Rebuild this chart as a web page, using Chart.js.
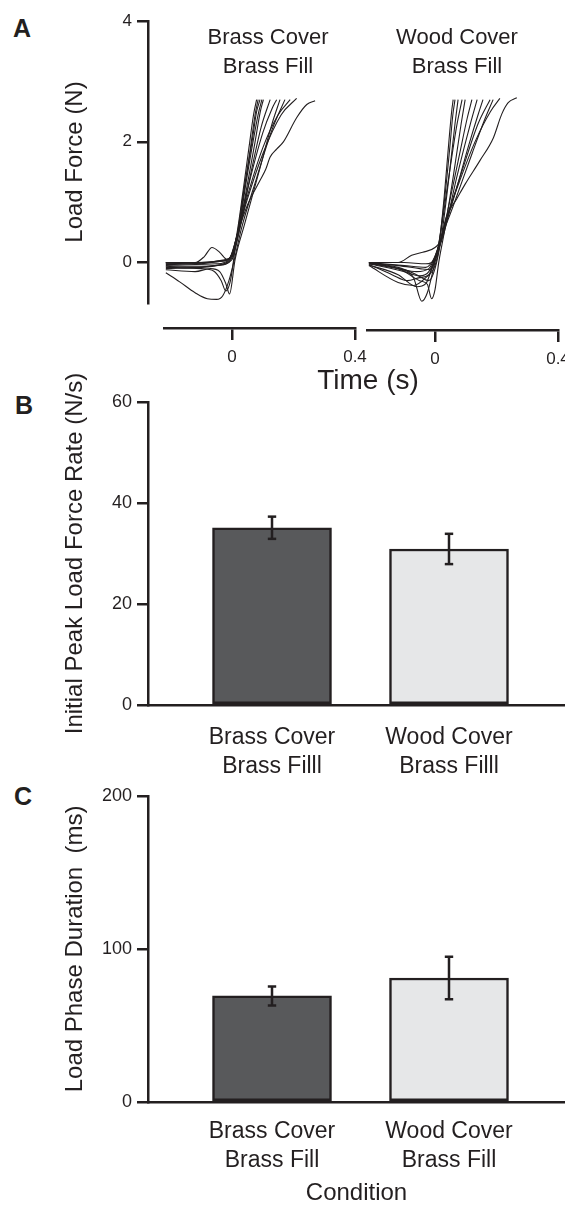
<!DOCTYPE html>
<html lang="en">
<head>
<meta charset="UTF-8">
<title>Load force traces and load phase summaries</title>
<script src="https://cdn.jsdelivr.net/npm/chart.js"></script>
<style>
  html, body { margin: 0; padding: 0; background: #fff; overflow: hidden; }
  body { width: 565px; height: 1205px; position: relative; font-family: 'Liberation Sans', Arial, sans-serif; color: #231f20; }
  canvas { position: absolute; }
  .panel { position: absolute; font-weight: bold; font-size: 25px; line-height: 25px; }
  #timeTitle { position: absolute; left: 268px; width: 200px; top: 366px; text-align: center; font-size: 28px; line-height: 28px; }
</style>
</head>
<body>
<div class="panel" style="left:13px;top:16px">A</div>
<div class="panel" style="left:15px;top:393px">B</div>
<div class="panel" style="left:14px;top:784px">C</div>

<canvas id="aAxis" width="150" height="320" style="left:0;top:0"></canvas>
<canvas id="aBrass" width="225" height="320" style="left:150px;top:0"></canvas>
<canvas id="aWood" width="215" height="320" style="left:350px;top:0"></canvas>
<canvas id="aTimeBrass" width="225" height="50" style="left:150px;top:318px"></canvas>
<canvas id="aTimeWood" width="215" height="50" style="left:350px;top:320px"></canvas>
<div id="timeTitle">Time (s)</div>
<canvas id="rateChart" width="565" height="440" style="left:0;top:340px"></canvas>
<canvas id="durChart" width="565" height="425" style="left:0;top:780px"></canvas>

<script>
// ---- data ----
const forceTicks = [0, 2, 4];
const timeTicks = [0, 0.4];

// load force traces, brass cover / brass fill (s, N)
const brassTime = [
  [-0.215, -0.12, -0.04, 0, 0.015, 0.035, 0.055, 0.07, 0.08],
  [-0.215, -0.1, -0.04, 0, 0.018, 0.04, 0.06, 0.075, 0.085],
  [-0.215, -0.12, -0.05, -0.01, 0.015, 0.04, 0.065, 0.08, 0.091],
  [-0.215, -0.1, -0.04, 0, 0.02, 0.045, 0.07, 0.087, 0.097],
  [-0.215, -0.1, -0.05, 0, 0.02, 0.05, 0.075, 0.092, 0.102],
  [-0.215, -0.12, -0.09, -0.065, -0.04, -0.015, 0.005, 0.025, 0.06, 0.095, 0.124],
  [-0.215, -0.1, -0.06, -0.035, -0.02, -0.005, 0.015, 0.05, 0.1, 0.13, 0.145],
  [-0.215, -0.12, -0.07, -0.04, -0.02, -0.008, 0.01, 0.04, 0.09, 0.13, 0.156],
  [-0.215, -0.17, -0.12, -0.08, -0.05, -0.03, -0.01, 0.01, 0.03, 0.08, 0.13, 0.172],
  [-0.215, -0.1, -0.04, -0.01, 0.015, 0.05, 0.1, 0.15, 0.189],
  [-0.215, -0.12, -0.06, -0.01, 0.015, 0.05, 0.1, 0.16, 0.21],
  [-0.215, -0.1, -0.03, 0, 0.015, 0.05, 0.09, 0.11, 0.124, 0.145, 0.167, 0.21, 0.243, 0.27]
];
const brassForce = [
  [0, 0, 0.02, 0.12, 0.45, 1.15, 1.9, 2.45, 2.7],
  [-0.02, -0.01, 0.02, 0.1, 0.45, 1.2, 1.9, 2.45, 2.7],
  [0, -0.03, -0.02, 0.05, 0.42, 1.25, 2.0, 2.5, 2.7],
  [-0.05, -0.06, -0.04, 0.08, 0.48, 1.3, 2.05, 2.5, 2.7],
  [-0.1, -0.08, -0.05, 0.05, 0.44, 1.3, 2.0, 2.5, 2.7],
  [0, 0, 0.1, 0.25, 0.17, 0.05, 0.2, 0.55, 1.45, 2.25, 2.7],
  [-0.08, -0.1, -0.14, -0.3, -0.47, -0.3, 0.4, 1.2, 2.15, 2.55, 2.7],
  [-0.12, -0.15, -0.1, -0.15, -0.35, -0.52, 0.05, 0.62, 1.55, 2.3, 2.7],
  [-0.17, -0.32, -0.5, -0.6, -0.61, -0.55, -0.3, 0.1, 0.55, 1.4, 2.2, 2.7],
  [-0.03, -0.02, 0.03, 0.06, 0.42, 1.1, 1.9, 2.45, 2.7],
  [-0.06, -0.08, -0.05, 0.03, 0.42, 1.05, 1.8, 2.45, 2.72],
  [-0.01, 0, 0.04, 0.12, 0.42, 0.95, 1.35, 1.55, 1.75, 1.88, 2.0, 2.4, 2.62, 2.68]
];

// load force traces, wood cover / brass fill (s, N)
const woodTime = [
  [-0.215, -0.1, -0.03, 0, 0.015, 0.03, 0.045, 0.054, 0.059],
  [-0.215, -0.12, -0.05, -0.015, 0.01, 0.03, 0.048, 0.058, 0.065],
  [-0.215, -0.12, -0.06, -0.02, 0, 0.02, 0.045, 0.065, 0.075],
  [-0.215, -0.12, -0.07, -0.043, -0.025, -0.005, 0.015, 0.04, 0.07, 0.088],
  [-0.215, -0.11, -0.05, -0.025, -0.011, 0, 0.012, 0.03, 0.06, 0.085, 0.098],
  [-0.215, -0.12, -0.076, -0.04, 0, 0.02, 0.045, 0.08, 0.105, 0.12],
  [-0.215, -0.14, -0.09, -0.05, -0.02, 0.01, 0.03, 0.07, 0.115, 0.137],
  [-0.215, -0.12, -0.07, -0.03, 0, 0.02, 0.06, 0.11, 0.14, 0.156],
  [-0.215, -0.1, -0.05, -0.02, 0.01, 0.04, 0.09, 0.14, 0.179],
  [-0.215, -0.12, -0.06, -0.03, -0.005, 0.02, 0.06, 0.12, 0.16, 0.189],
  [-0.215, -0.12, -0.06, -0.02, 0.01, 0.035, 0.08, 0.13, 0.18, 0.211],
  [-0.215, -0.1, -0.03, 0, 0.02, 0.036, 0.07, 0.098, 0.146, 0.19, 0.217, 0.238, 0.266]
];
const woodForce = [
  [0, 0, -0.02, 0.05, 0.38, 1.1, 2.0, 2.5, 2.7],
  [-0.02, -0.05, -0.1, -0.12, 0.25, 1.0, 1.9, 2.45, 2.7],
  [0, -0.08, -0.2, -0.3, -0.1, 0.4, 1.4, 2.3, 2.7],
  [-0.02, -0.1, -0.25, -0.64, -0.5, -0.1, 0.38, 1.25, 2.25, 2.7],
  [0, -0.12, -0.3, -0.36, -0.6, -0.45, 0, 0.5, 1.45, 2.3, 2.7],
  [0, 0, 0.12, 0.17, 0.25, 0.38, 0.95, 1.8, 2.4, 2.7],
  [-0.03, -0.2, -0.3, -0.25, -0.2, 0.2, 0.5, 1.4, 2.3, 2.7],
  [-0.05, -0.33, -0.38, -0.25, -0.05, 0.38, 1.05, 1.95, 2.45, 2.7],
  [-0.02, -0.15, -0.22, -0.15, 0.2, 0.75, 1.55, 2.3, 2.7],
  [-0.04, -0.2, -0.4, -0.35, 0, 0.4, 0.95, 1.8, 2.35, 2.7],
  [-0.01, -0.1, -0.15, -0.1, 0.25, 0.7, 1.35, 2.0, 2.5, 2.72],
  [0, -0.05, -0.08, 0.1, 0.4, 0.75, 1.05, 1.3, 1.69, 2.07, 2.46, 2.65, 2.73]
];

// bar panels
const rateLabels = [['Brass Cover', 'Brass Filll'], ['Wood Cover', 'Brass Filll']];
const rateMean = [35.1, 30.9];
const rateSem = [2.2, 3.0];
const rateTicks = [0, 20, 40, 60];

const durLabels = [['Brass Cover', 'Brass Fill'], ['Wood Cover', 'Brass Fill']];
const durMean = [69.3, 81.0];
const durSem = [6.2, 13.9];
const durTicks = [0, 100, 200];

const barFills = ['#58595b', '#e6e7e8'];

// ---- drawing ----
const ink = '#231f20';
Chart.defaults.font.family = "'Liberation Sans', Arial, sans-serif";
Chart.defaults.color = ink;
Chart.defaults.plugins.legend.display = false;
Chart.defaults.plugins.tooltip.enabled = false;

const pinWidth = w => s => { s.width = w; };
const pinHeight = h => s => { s.height = h; s.paddingLeft = 0; s.paddingRight = 0; };
const fixedTicks = vals => s => { s.ticks = vals.map(v => ({ value: v })); };

const forceMin = -0.67;
const tracesTop = 2.84;   // value at the top of the trace area, under the titles

// shared y axis for panel A
new Chart(document.getElementById('aAxis'), {
  type: 'scatter',
  data: { datasets: [] },
  options: {
    responsive: false, animation: false,
    layout: { padding: { top: 21, bottom: 17, left: 0, right: 0 }, autoPadding: false },
    scales: {
      x: { display: false, min: 0, max: 1 },
      y: {
        min: forceMin, max: 4,
        afterBuildTicks: fixedTicks(forceTicks),
        afterFit: pinWidth(148),
        border: { color: ink, width: 2.5 },
        grid: { drawOnChartArea: false, tickLength: 11, color: ink, lineWidth: 2.5 },
        ticks: { font: { size: 17 }, padding: 5, color: ink, callback: v => String(v) },
        title: { display: true, text: 'Load Force (N)', font: { size: 24 }, color: ink, padding: { top: 61, bottom: 0 } }
      }
    }
  }
});

function traceChart(id, times, forces, title, xMin, xMax, padLeft, padRight) {
  return new Chart(document.getElementById(id), {
    type: 'scatter',
    data: {
      datasets: times.map((ts, i) => ({
        data: ts.map((t, j) => ({ x: t, y: forces[i][j] })),
        showLine: true,
        borderColor: ink,
        borderWidth: 1.1,
        pointRadius: 0,
        cubicInterpolationMode: 'monotone'
      }))
    },
    options: {
      responsive: false, animation: false,
      layout: { padding: { top: 24, bottom: 17, left: padLeft, right: padRight }, autoPadding: false },
      plugins: {
        title: {
          display: true, text: title, fullSize: false, color: ink,
          font: { size: 22, weight: 'normal', lineHeight: 1.3 },
          padding: { top: 0, bottom: 10 }
        }
      },
      scales: {
        x: { display: false, type: 'linear', min: xMin, max: xMax },
        y: { display: false, min: forceMin, max: tracesTop }
      }
    }
  });
}
traceChart('aBrass', brassTime, brassForce, ['Brass Cover', 'Brass Fill'], -0.221, 0.455, 14, 3);
traceChart('aWood', woodTime, woodForce, ['Wood Cover', 'Brass Fill'], -0.257, 0.4, 6, 7);

function timeAxis(id, xMin, padLeft, padRight) {
  return new Chart(document.getElementById(id), {
    type: 'scatter',
    data: { datasets: [] },
    options: {
      responsive: false, animation: false,
      layout: { padding: { top: 8, bottom: 0, left: padLeft, right: padRight }, autoPadding: false },
      scales: {
        y: { display: false },
        x: {
          type: 'linear', min: xMin, max: 0.4,
          afterBuildTicks: fixedTicks(timeTicks),
          afterFit: pinHeight(40),
          border: { color: ink, width: 2.5 },
          grid: { drawOnChartArea: false, tickLength: 12, color: ink, lineWidth: 2.5 },
          ticks: { font: { size: 17 }, padding: 7, color: ink, maxRotation: 0, callback: v => String(v) }
        }
      }
    }
  });
}
timeAxis('aTimeBrass', -0.221, 14, 20);
timeAxis('aTimeWood', -0.221, 17, 7);

function barChart(id, labels, means, sems, yTicks, yTitle, padTop, axisHeight, labelPad, xTitle) {
  const bars = {
    type: 'bar', order: 2,
    data: means.map((m, i) => ({ x: i, y: m })),
    backgroundColor: barFills,
    borderColor: ink, borderWidth: 2.5, borderSkipped: false,
    barThickness: 119
  };
  const whiskers = means.map((m, i) => ({
    type: 'line', order: 1,
    data: [{ x: i, y: m - sems[i] }, { x: i, y: m + sems[i] }],
    borderColor: ink, borderWidth: 2.5,
    pointStyle: 'line', pointRadius: 4.2, pointBorderWidth: 2.5, pointBorderColor: ink
  }));
  return new Chart(document.getElementById(id), {
    type: 'bar',
    data: { datasets: [bars, ...whiskers] },
    options: {
      responsive: false, animation: false,
      layout: { padding: { top: padTop, bottom: 0, left: 0, right: 0 }, autoPadding: false },
      scales: {
        x: {
          type: 'linear', offset: false, min: -0.7006, max: 1.6554,
          afterBuildTicks: fixedTicks([0, 1]),
          afterFit: pinHeight(axisHeight),
          border: { color: ink, width: 2.5 },
          grid: { display: false },
          ticks: {
            font: { size: 23, lineHeight: 1.26 }, padding: labelPad, color: ink,
            maxRotation: 0, autoSkip: false,
            callback: (v, i) => labels[i]
          },
          title: xTitle
            ? { display: true, text: xTitle, font: { size: 24, lineHeight: 1 }, color: ink, padding: { top: 0, bottom: 0 } }
            : { display: false }
        },
        y: {
          min: 0, max: yTicks[yTicks.length - 1],
          afterBuildTicks: fixedTicks(yTicks),
          afterFit: pinWidth(148),
          border: { color: ink, width: 2.5 },
          grid: { drawOnChartArea: false, tickLength: 11, color: ink, lineWidth: 2.5 },
          ticks: { font: { size: 18 }, padding: 5, color: ink, callback: v => String(v) },
          title: { display: true, text: yTitle, font: { size: 24 }, color: ink, padding: { top: 61, bottom: 0 } }
        }
      }
    }
  });
}
barChart('rateChart', rateLabels, rateMean, rateSem, rateTicks, 'Initial Peak Load Force Rate (N/s)', 62, 75, 10, null);
barChart('durChart', durLabels, durMean, durSem, durTicks, 'Load Phase Duration  (ms)', 15, 103, 7, 'Condition');
</script>
</body>
</html>
